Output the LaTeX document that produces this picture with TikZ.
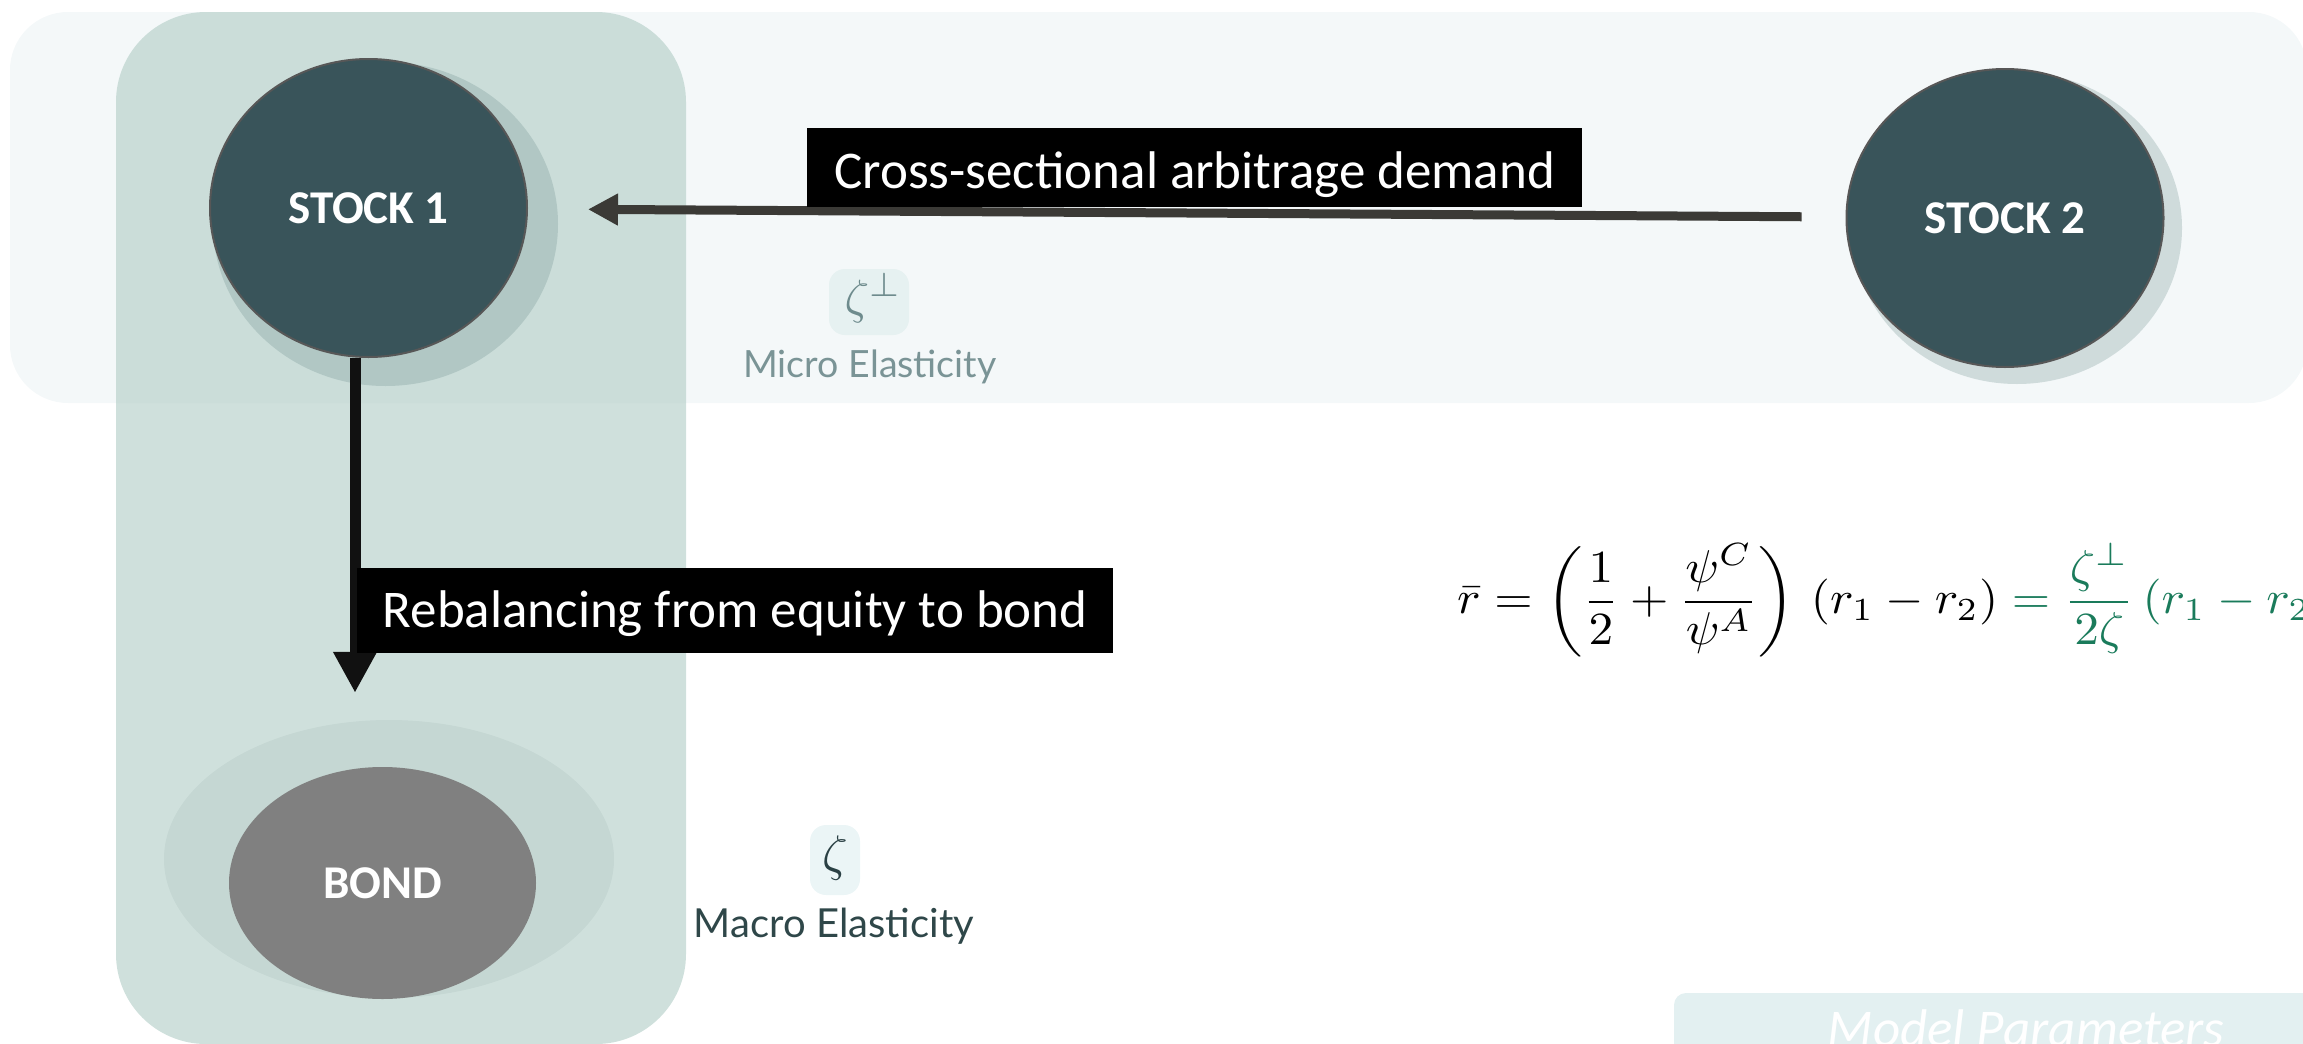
\documentclass[tikz,border=0pt]{standalone}
\usepackage{fontspec}
\usepackage{amsmath}
\newfontfamily\calibri{Carlito}
\newfontfamily\latofont{Lato}
\usetikzlibrary{arrows.meta,shapes.geometric}
\definecolor{bandc}{HTML}{F4F8F9}
\definecolor{colc}{HTML}{B4CFC8}
\definecolor{shadowA}{HTML}{B1C7C4}
\definecolor{shadowB}{HTML}{CFDBDB}
\definecolor{stockc}{HTML}{39545A}
\definecolor{stockline}{HTML}{575757}
\definecolor{bondhaloc}{HTML}{C5D7D3}
\definecolor{bondc}{HTML}{808080}
\definecolor{arrowAc}{HTML}{3B3A36}
\definecolor{arrowBc}{HTML}{111111}
\definecolor{microboxc}{HTML}{E6F1F1}
\definecolor{microsymc}{HTML}{6E8B8D}
\definecolor{microtextc}{HTML}{7A9496}
\definecolor{macroboxc}{HTML}{EBF5F6}
\definecolor{macrosymc}{HTML}{2A4044}
\definecolor{macrotextc}{HTML}{2F4749}
\definecolor{eqgreen}{HTML}{1A7B5B}
\definecolor{paramc}{HTML}{E3F0F1}
\begin{document}
\begin{tikzpicture}[x=1pt,y=-1pt,
  stocknode/.style={ellipse, fill=stockc, draw=stockline, line width=2pt, inner sep=0,
    minimum width=317pt, minimum height=298pt, text=white,
    font=\calibri\bfseries\fontsize{47}{56}\selectfont},
  lbl/.style={fill=black, text=white, inner sep=0, anchor=north west,
    font=\calibri\fontsize{53}{64}\selectfont},
  arrA/.style={draw=arrowAc, line width=9pt, -{Triangle[length=30pt,width=30pt]}},
  arrB/.style={draw=arrowBc, line width=11pt, -{Triangle[length=41pt,width=41pt]}},
  symbox/.style={rounded corners=16pt, inner sep=0},
]
\useasboundingbox (0,0) rectangle (2303,1044);
\clip (0,0) rectangle (2303,1044);
% background panels
\fill[bandc, rounded corners=58pt] (10,12) rectangle (2307,403);
\fill[colc, fill opacity=0.64, rounded corners=90pt] (116,12) rectangle (686,1044);
% stock shadows
\fill[shadowA] (385.5,224) ellipse [x radius=172.5pt, y radius=162pt];
\fill[shadowB] (2017,228) ellipse [x radius=165pt, y radius=156pt];
% stocks
\node[stocknode] (stock1) at (368.5,208) {STOCK 1};
\node[stocknode] (stock2) at (2005,218) {STOCK 2};
% bond
\fill[bondhaloc] (389,859) ellipse [x radius=225pt, y radius=139pt];
\node[ellipse, fill=bondc, inner sep=0, minimum width=307pt, minimum height=232pt,
  text=white, font=\calibri\bfseries\fontsize{47}{56}\selectfont] (bond) at (382.5,883) {BOND};
% arrows
\draw[arrA, shorten <=44pt, shorten >=60pt] (stock2) -- (stock1);
\coordinate (vstart) at ([xshift=-13.5pt]stock1.south);
\draw[arrB, shorten >=74pt] (vstart) -- (vstart |- bond.north);
% labels
\node[lbl, minimum width=775pt, text height=60pt, text depth=19pt] (crosslbl) at (807,128) {Cross-sectional arbitrage demand};
\node[lbl, minimum width=756pt, text height=59pt, text depth=26pt] (rebal) at (357,568) {Rebalancing from equity to bond};
% micro elasticity
\node[symbox, fill=microboxc, minimum width=80pt, minimum height=66pt] (microbox) at (869,302) {};
\node[text=microsymc, scale=4.8, transform shape, inner sep=0] (microsym) at (873,298) {$\zeta^{\perp}$};
\node[font=\latofont\fontsize{37.5}{45}\selectfont, text=microtextc, anchor=base, inner sep=0] (microtxt) at (870,377) {Micro Elasticity};
% macro elasticity
\node[symbox, fill=macroboxc, minimum width=50pt, minimum height=70pt] (macrobox) at (835,860) {};
\node[text=macrosymc, scale=5, transform shape, inner sep=0] (macrosym) at (835,858) {$\zeta$};
\node[font=\latofont\fontsize{40}{48}\selectfont, text=macrotextc, anchor=base, inner sep=0] (macrotxt) at (834,937) {Macro Elasticity};
% equation
\node[anchor=west, inner sep=0, xscale=4.93, yscale=4.6, transform shape] (eq) at (1456,600)
  {$\displaystyle \bar r = \left(\frac{1}{2}+\frac{\psi^C}{\psi^A}\right)\,(r_1-r_2) \color{eqgreen} = \frac{\zeta^{\perp}}{2\zeta}\,(r_1-r_2)$};
% model parameters
\fill[paramc, rounded corners=12pt] (1674,993) rectangle (2340,1120);
\node[anchor=base, inner sep=0, text=white, font=\calibri\itshape\fontsize{53}{63}\selectfont] (params) at (2026,1046) {Model Parameters};
\end{tikzpicture}
\end{document}
